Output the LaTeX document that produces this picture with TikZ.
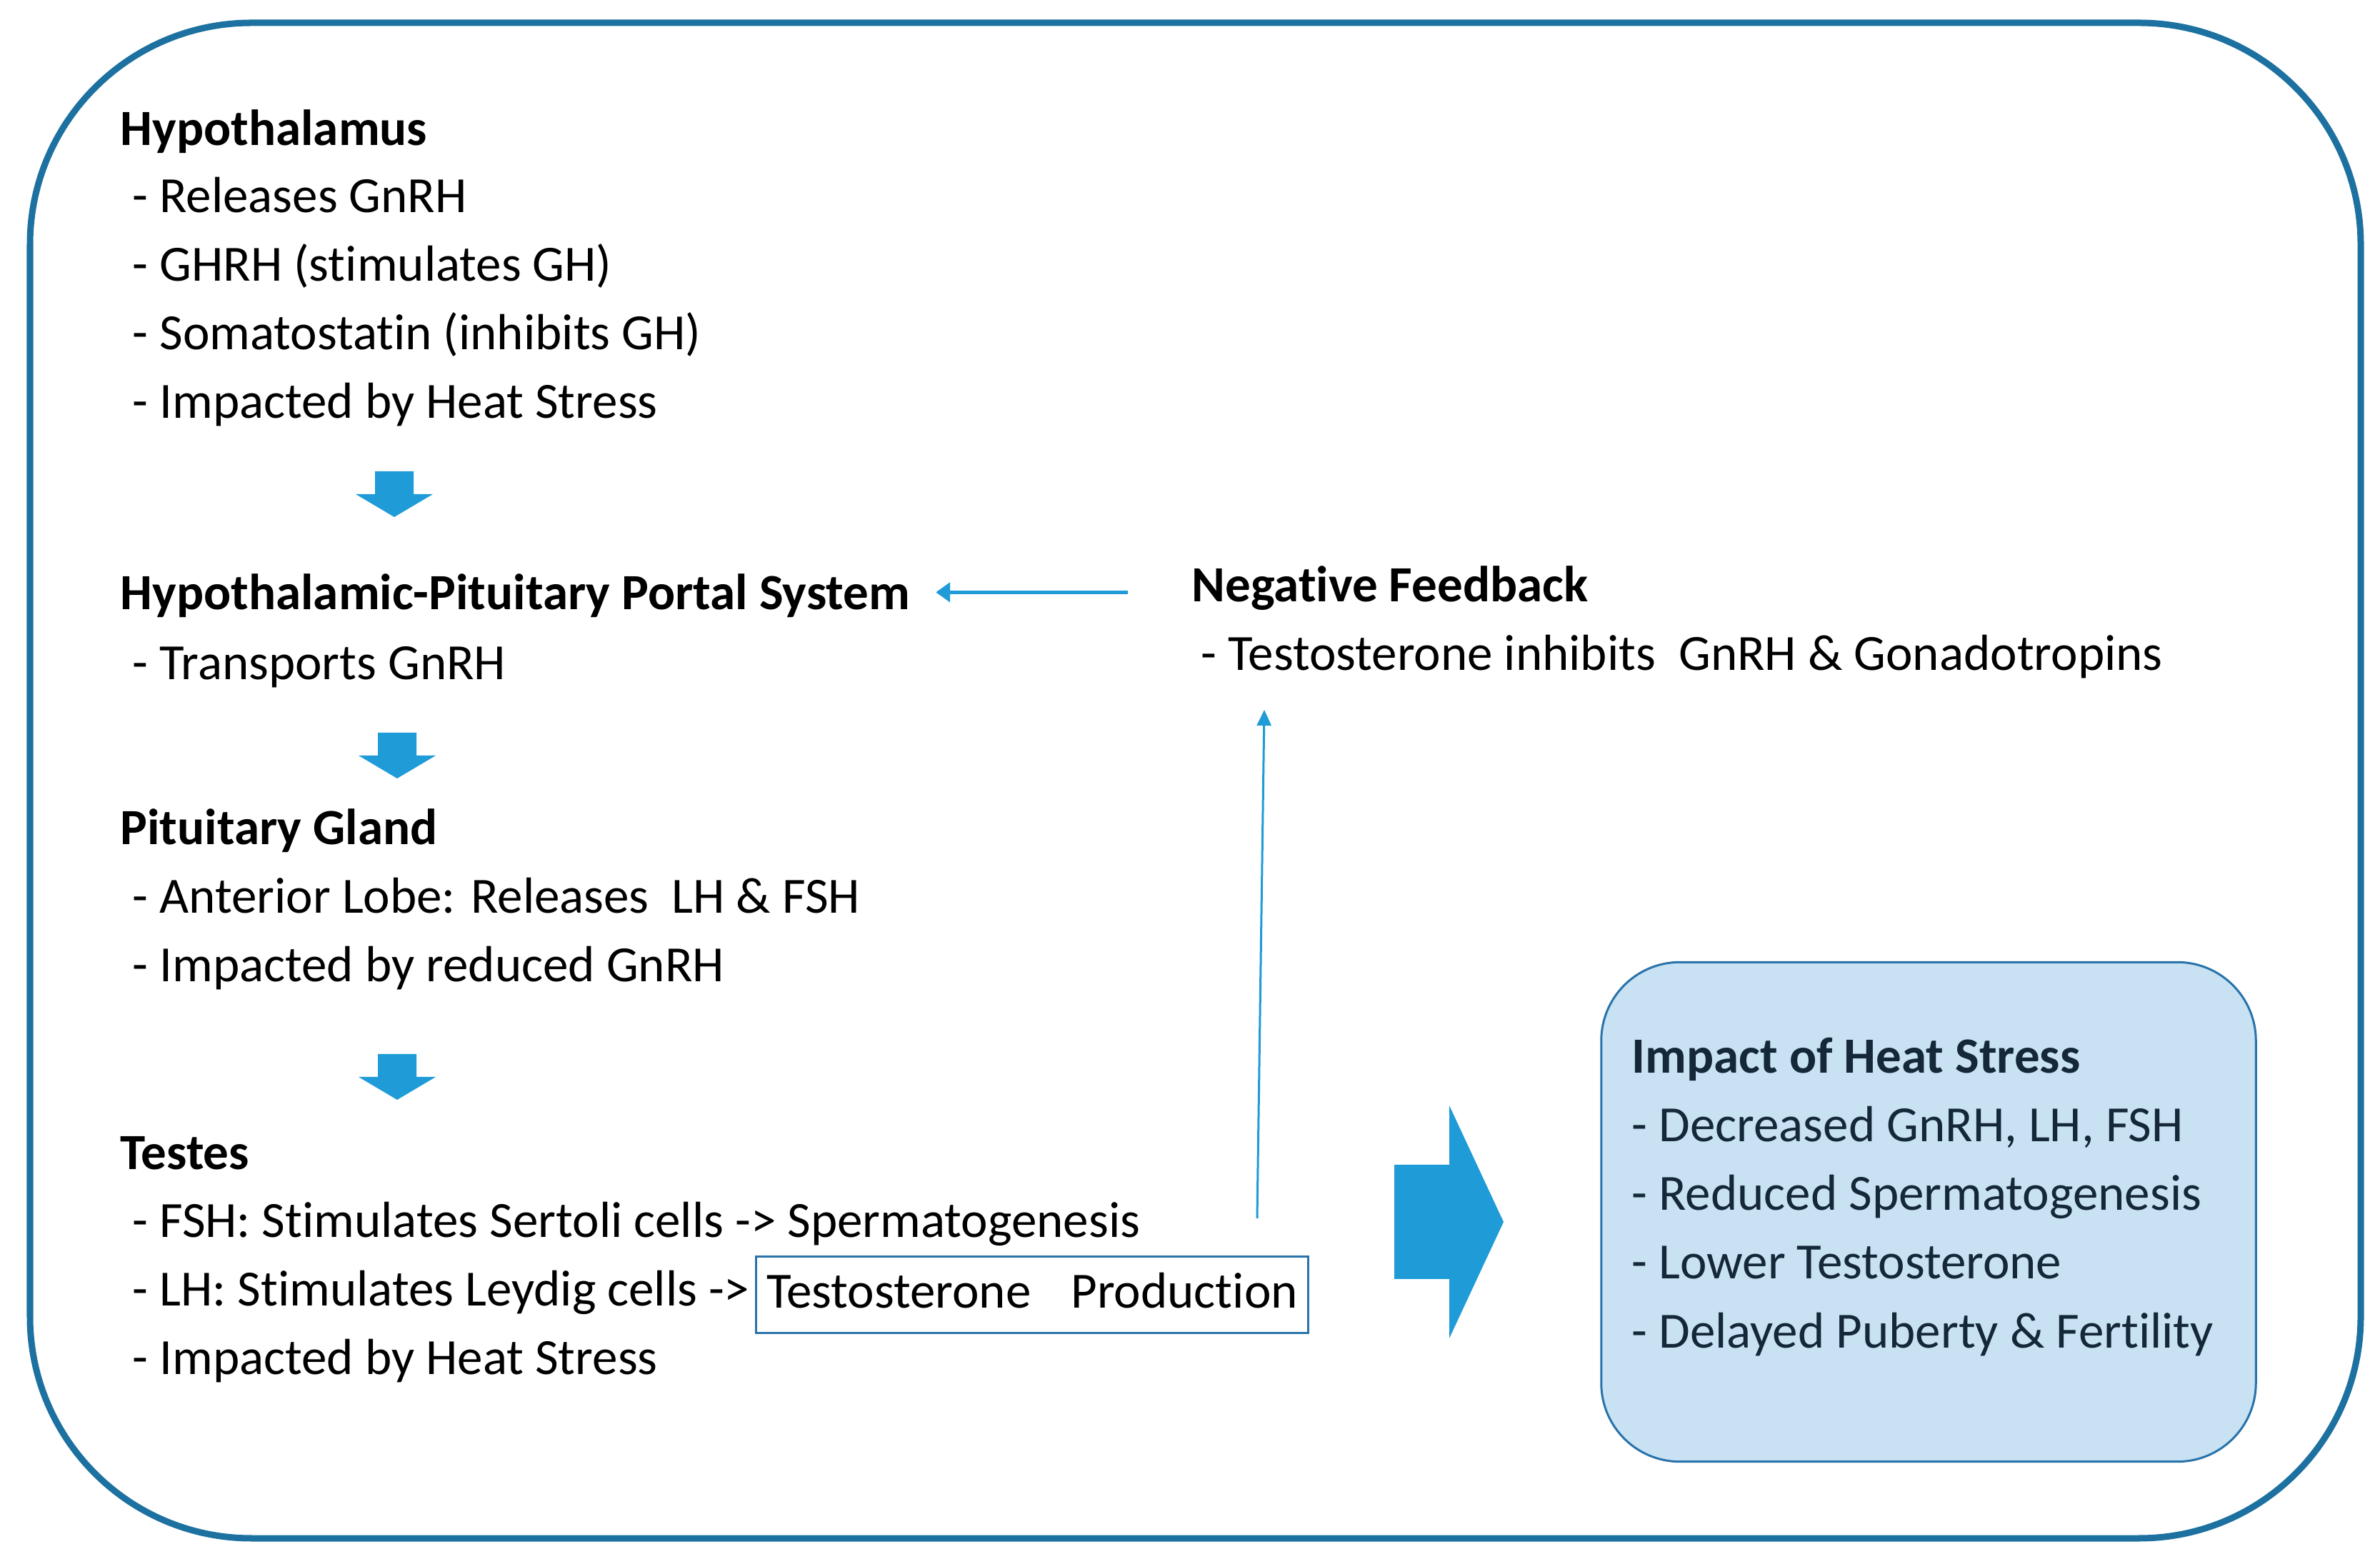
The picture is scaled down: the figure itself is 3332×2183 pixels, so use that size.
\documentclass[tikz,border=0pt]{standalone}
\usepackage{fontspec}
\setmainfont[Ligatures={NoCommon,NoContextual},RawFeature={-liga;-clig;-calt}]{Carlito}
\usepackage{tikz}
\usetikzlibrary{arrows.meta}
\definecolor{hpgframe}{HTML}{1D71A0}
\definecolor{hpgblue}{HTML}{1F9BD7}
\definecolor{hpgline}{HTML}{2A73AA}
\definecolor{hpgfill}{HTML}{C8E2F4}
\definecolor{hpgnavy}{HTML}{14283A}

\begin{document}
\begin{tikzpicture}[x=0.01cm, y=-0.01cm,
    head/.style={anchor=base west, inner sep=0pt, font=\fontsize{20.2}{27.3}\selectfont\bfseries},
    items/.style={anchor=base west, inner sep=0pt, align=left, font=\fontsize{20.2}{27.3}\selectfont},
    blockdown/.pic={\fill[hpgblue] (-27,-64) -- (27,-64) -- (27,-32) -- (54,-32) -- (0,0) -- (-54,-32) -- (-27,-32) -- cycle;},
    fbarrow/.style={-{Triangle[length=0.2cm,width=0.27cm]}, hpgblue, line width=0.05cm}
]
    \useasboundingbox (0,0) rectangle (3332,2183);

    % outer frame
    \draw[hpgframe, line width=0.09cm, rounded corners=3.1cm] (42,32) rectangle (3305,2154);

    % Hypothalamus
    \node[head] (hypo) at (168,204) {Hypothalamus};
    \node[items] (hypoitems) at (185,586) {- Releases GnRH\\- GHRH (stimulates GH)\\- Somatostatin (inhibits GH)\\- Impacted by Heat Stress};
    \pic (harr1) at (552,724) {blockdown};

    % Portal system
    \node[head] (portal) at (168,854) {Hypothalamic-Pituitary Portal System};
    \node[items] (portalitems) at (185,952) {- Transports GnRH};
    \pic (harr2) at (556,1090) {blockdown};

    % Pituitary
    \node[head] (pit) at (168,1183) {Pituitary Gland};
    \node[items] (pititems) at (185,1375) {- Anterior Lobe: Releases\ \ LH \& FSH\\- Impacted by reduced GnRH};
    \pic (harr3) at (556,1540) {blockdown};

    % Testes
    \node[head] (testes) at (168,1638) {Testes};
    \node[items] (testesitems) at (185,1925) {- FSH: Stimulates Sertoli cells -> Spermatogenesis\\- LH: Stimulates Leydig cells ->\\- Impacted by Heat Stress};
    \node[draw=hpgline, line width=0.03cm, minimum width=7.72cm, minimum height=1.06cm, inner sep=0pt,
        text depth=0.12cm, font=\fontsize{20.2}{27.3}\selectfont] (prod) at (1445,1813) {Testosterone\hspace{0.56cm}Production};

    % Negative feedback
    \node[head] (negfb) at (1668,843) {Negative Feedback};
    \node[items] (negfbitems) at (1681,939) {- Testosterone inhibits\ \ GnRH \& Gonadotropins};
    \draw[fbarrow, shorten <=0.89cm, shorten >=0.36cm] ([yshift=-1.5pt]negfb.west) -- ([yshift=-1.5pt]negfb.west -| portal.east);
    \coordinate (fbstart) at (1760,1706);
    \draw[-{Triangle[length=0.22cm,width=0.2cm]}, hpgblue, line width=0.03cm]
        (fbstart) -- ([shift={(89,55)}]negfbitems.base west);

    % big arrow and impact box
    \fill[hpgblue] (1952,1631) -- (2029,1631) -- (2029,1548) -- (2105,1711) -- (2029,1874) -- (2029,1791) -- (1952,1791) -- cycle;
    \node[draw=hpgline, line width=0.03cm, fill=hpgfill, rounded corners=1.1cm,
        minimum width=9.16cm, minimum height=6.99cm] (impact) at (2700,1697) {};
    \node[items, text=hpgnavy] (impactitems) at (2284,1887) {\textbf{Impact of Heat Stress}\\- Decreased GnRH, LH, FSH\\- Reduced Spermatogenesis\\- Lower Testosterone\\- Delayed Puberty \& Fertility};
\end{tikzpicture}
\end{document}
